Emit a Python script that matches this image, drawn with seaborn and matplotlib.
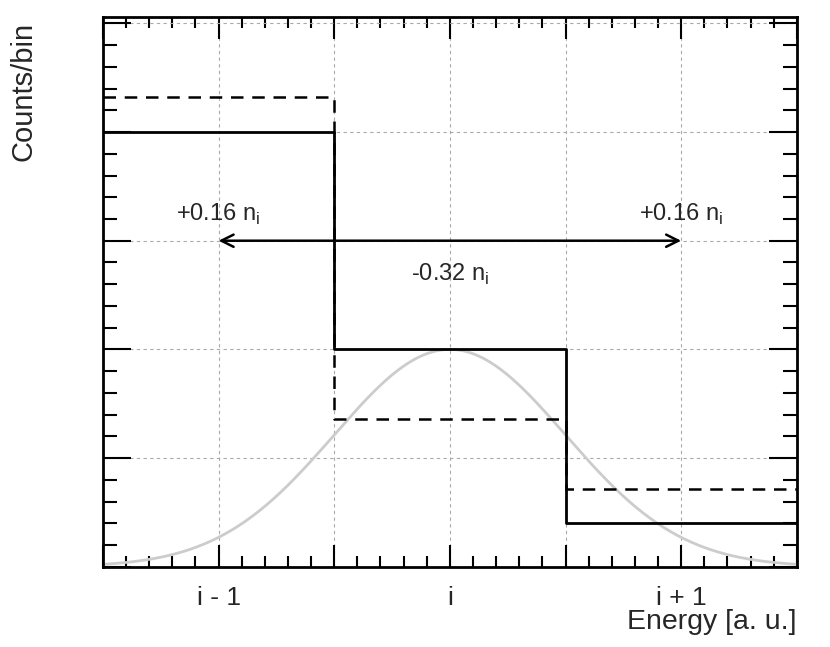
import numpy as np
import matplotlib
matplotlib.use("Agg")
import matplotlib.pyplot as plt
from matplotlib.ticker import MultipleLocator, FuncFormatter
import seaborn as sns

sns.set_theme(style="ticks")
plt.rcParams["font.family"] = ["Liberation Sans", "DejaVu Sans"]
plt.rcParams["mathtext.fontset"] = "custom"
plt.rcParams["mathtext.rm"] = "Liberation Sans"

# bins i-1, i, i+1
bin_centers = [-1.0, 0.0, 1.0]
bin_edges = [-1.5, -0.5, 0.5, 1.5]
counts_before = [4.0, 2.0, 0.4]
counts_after = [4.32, 1.36, 0.72]
tick_names = {-1.0: "i - 1", 0.0: "i", 1.0: "i + 1"}

# spread of the energy resolution (gaussian drawn in grey)
peak_height = 2.0
peak_sigma = 0.5

fig, ax = plt.subplots(figsize=(8.3, 6.47), dpi=100)
fig.subplots_adjust(left=0.124, right=0.960, top=0.974, bottom=0.124)

ax.grid(True, which="major", color="#aaaaaa", linestyle=(0, (3, 3)), linewidth=0.8)
ax.set_axisbelow(True)

xs = np.linspace(bin_edges[0], bin_edges[-1], 400)
sns.lineplot(x=xs, y=peak_height * np.exp(-0.5 * (xs / peak_sigma) ** 2),
             color="#cccccc", lw=2, ax=ax)

sns.histplot(x=bin_centers, weights=counts_after, bins=bin_edges, element="step",
             fill=False, color="black", lw=1.8, linestyle=(0, (5, 3.5)), ax=ax)
sns.histplot(x=bin_centers, weights=counts_before, bins=bin_edges, element="step",
             fill=False, color="black", lw=2, ax=ax)

ax.annotate("", xy=(-1, 3), xytext=(1, 3),
            arrowprops=dict(arrowstyle="<->", color="black", lw=1.8,
                            mutation_scale=22, shrinkA=0, shrinkB=0))
ax.text(-1, 3.24, r"+0.16 n$_\mathregular{i}$", ha="center", va="center", fontsize=17)
ax.text(1, 3.24, r"+0.16 n$_\mathregular{i}$", ha="center", va="center", fontsize=17)
ax.text(0, 2.69, r"-0.32 n$_\mathregular{i}$", ha="center", va="center", fontsize=17)

ax.set_xlim(-1.5, 1.5)
ax.set_ylim(0, 5.06)
ax.xaxis.set_major_locator(MultipleLocator(0.5))
ax.xaxis.set_minor_locator(MultipleLocator(0.1))
ax.yaxis.set_major_locator(MultipleLocator(1))
ax.yaxis.set_minor_locator(MultipleLocator(0.2))
ax.xaxis.set_major_formatter(FuncFormatter(lambda v, p: tick_names.get(round(v, 2), "")))
ax.yaxis.set_major_formatter(FuncFormatter(lambda v, p: ""))
ax.tick_params(which="both", direction="in", top=True, right=True, width=1.5,
               color="black", labelsize=19, pad=14)
ax.tick_params(axis="x", which="major", length=16)
ax.tick_params(axis="x", which="minor", length=8)
ax.tick_params(axis="y", which="major", length=20)
ax.tick_params(axis="y", which="minor", length=10)
for s in ax.spines.values():
    s.set_linewidth(2)
    s.set_color("black")

ax.set_xlabel("Energy [a. u.]", fontsize=20.5, loc="right")
ax.xaxis.set_label_coords(1.0, -0.077)
ax.set_ylabel("Counts/bin", fontsize=21, loc="top")
ax.yaxis.set_label_coords(-0.094, 0.99)

fig.savefig("out.png", dpi=100)
